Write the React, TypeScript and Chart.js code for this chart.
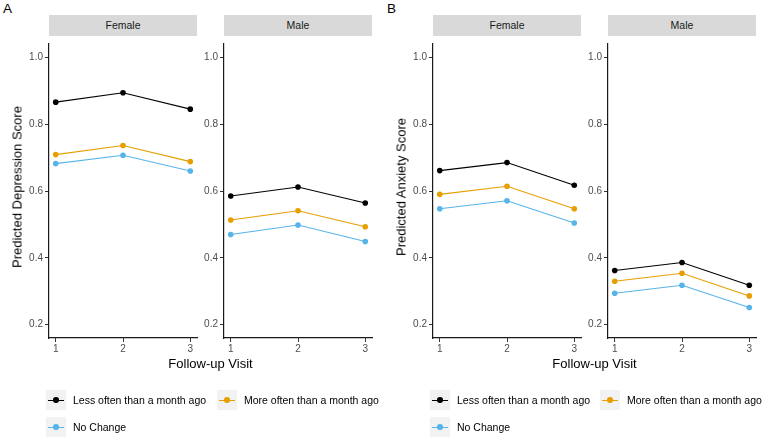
import React, { useEffect, useRef } from "react";
import { Chart, registerables } from "chart.js";

Chart.register(...registerables);

const visits = [1, 2, 3];
const yTickValues = [0.2, 0.4, 0.6, 0.8, 1.0];
const seriesNames = ["Less often than a month ago", "More often than a month ago", "No Change"];
const seriesColors = ["#000000", "#E69F00", "#56B4E9"];
const sexes = ["Female", "Male"];

// Depression (panel A)
const depFemaleLess = [0.866, 0.894, 0.845];
const depFemaleMore = [0.709, 0.736, 0.688];
const depFemaleNoChange = [0.682, 0.707, 0.660];
const depMaleLess = [0.585, 0.612, 0.564];
const depMaleMore = [0.513, 0.541, 0.493];
const depMaleNoChange = [0.470, 0.498, 0.449];

// Anxiety (panel B)
const anxFemaleLess = [0.661, 0.685, 0.617];
const anxFemaleMore = [0.590, 0.614, 0.547];
const anxFemaleNoChange = [0.547, 0.571, 0.504];
const anxMaleLess = [0.362, 0.386, 0.318];
const anxMaleMore = [0.330, 0.354, 0.286];
const anxMaleNoChange = [0.294, 0.318, 0.251];

const FONT = "'Liberation Sans', Arial, Helvetica, sans-serif";
const PLOT_W = 148;
const PLOT_TOP = 36;
const PLOT_H = 302;
const Y_AXIS_W = 30;
const X_AXIS_H = 20;
const RIGHT_PAD = 4;

type PanelProps = { left: number; series: number[][] };

function Panel({ left, series }: PanelProps) {
  const ref = useRef<HTMLCanvasElement | null>(null);
  useEffect(() => {
    if (!ref.current) return;
    const chart = new Chart(ref.current, {
      type: "line",
      data: {
        datasets: series.map((vals, i) => ({
          label: seriesNames[i],
          data: visits.map((x, j) => ({ x, y: vals[j] })),
          borderColor: seriesColors[i],
          backgroundColor: seriesColors[i],
          borderWidth: 1.1,
          pointRadius: 2.8,
          pointBorderWidth: 0,
          pointBackgroundColor: seriesColors[i],
          fill: false,
          tension: 0,
        })),
      },
      options: {
        animation: false,
        responsive: false,
        maintainAspectRatio: false,
        events: [],
        layout: { padding: { left: 0, right: RIGHT_PAD, top: 0, bottom: 0 } },
        plugins: { legend: { display: false }, tooltip: { enabled: false }, title: { display: false } },
        scales: {
          x: {
            type: "linear",
            min: 0.9,
            max: 3.1,
            afterBuildTicks: (s: any) => {
              s.ticks = visits.map((v) => ({ value: v }));
            },
            afterFit: (s: any) => {
              s.height = X_AXIS_H;
            },
            grid: { drawOnChartArea: false, drawTicks: true, tickLength: 4, color: "#333333", lineWidth: 1 },
            border: { display: true, color: "#1a1a1a", width: 1.2 },
            ticks: {
              color: "#4d4d4d",
              font: { size: 10, family: FONT },
              padding: 1,
              maxRotation: 0,
              autoSkip: false,
              callback: (v: any) => String(v),
            },
          },
          y: {
            type: "linear",
            min: 0.16,
            max: 1.04,
            afterBuildTicks: (s: any) => {
              s.ticks = yTickValues.map((v) => ({ value: v }));
            },
            afterFit: (s: any) => {
              s.width = Y_AXIS_W;
            },
            grid: { drawOnChartArea: false, drawTicks: true, tickLength: 4, color: "#333333", lineWidth: 1 },
            border: { display: true, color: "#1a1a1a", width: 1.2 },
            ticks: {
              color: "#4d4d4d",
              font: { size: 10, family: FONT },
              padding: 2,
              autoSkip: false,
              callback: (v: any) => Number(v).toFixed(1),
            },
          },
        },
      },
    });
    return () => chart.destroy();
  }, [left, series]);
  const w = Y_AXIS_W + PLOT_W + RIGHT_PAD;
  const h = PLOT_H + X_AXIS_H;
  return (
    <canvas
      ref={ref}
      width={w}
      height={h}
      style={{ position: "absolute", left: left - Y_AXIS_W, top: PLOT_TOP, width: w, height: h }}
    />
  );
}

function Strip({ left, text }: { left: number; text: string }) {
  return (
    <div
      style={{
        position: "absolute",
        left,
        top: 15,
        width: PLOT_W,
        height: 21,
        background: "#d9d9d9",
        color: "#1a1a1a",
        fontSize: 10.5,
        lineHeight: "21px",
        textAlign: "center",
      }}
    >
      {text}
    </div>
  );
}

function LegendItem({ left, top, textLeft, color, label }: { left: number; top: number; textLeft: number; color: string; label: string }) {
  return (
    <>
      <div style={{ position: "absolute", left, top, width: 20, height: 20, background: "#f2f2f2" }}>
        <div style={{ position: "absolute", left: 2, top: 9.5, width: 16, height: 1.1, background: color }} />
        <div style={{ position: "absolute", left: 7.2, top: 7.2, width: 5.6, height: 5.6, borderRadius: "50%", background: color }} />
      </div>
      <div
        style={{
          position: "absolute",
          left: textLeft,
          top,
          height: 20,
          lineHeight: "20px",
          fontSize: 10.5,
          color: "#000",
          whiteSpace: "nowrap",
        }}
      >
        {label}
      </div>
    </>
  );
}

function Half({ offset, tag, yTitle, female, male, plotLefts, legendX }: any) {
  const [fl, ml] = plotLefts;
  const center = (fl + ml + PLOT_W) / 2;
  return (
    <>
      <div style={{ position: "absolute", left: offset + 3, top: 1, fontSize: 13.5, color: "#000" }}>{tag}</div>
      <Strip left={fl} text={sexes[0]} />
      <Strip left={ml} text={sexes[1]} />
      <Panel left={fl} series={female} />
      <Panel left={ml} series={male} />
      <div
        style={{
          position: "absolute",
          left: fl - 32,
          top: PLOT_TOP + PLOT_H / 2,
          transform: "translate(-50%, -50%) rotate(-90deg)",
          fontSize: 13,
          whiteSpace: "nowrap",
          color: "#000",
        }}
      >
        {yTitle}
      </div>
      <div
        style={{
          position: "absolute",
          left: center,
          top: 363,
          transform: "translate(-50%, -50%)",
          fontSize: 13,
          whiteSpace: "nowrap",
          color: "#000",
        }}
      >
        Follow-up Visit
      </div>
      <LegendItem left={legendX[0]} top={390} textLeft={legendX[0] + 27} color={seriesColors[0]} label={seriesNames[0]} />
      <LegendItem left={legendX[1]} top={390} textLeft={legendX[1] + 27} color={seriesColors[1]} label={seriesNames[1]} />
      <LegendItem left={legendX[0]} top={417} textLeft={legendX[0] + 27} color={seriesColors[2]} label={seriesNames[2]} />
    </>
  );
}

const depFemale = [depFemaleLess, depFemaleMore, depFemaleNoChange];
const depMale = [depMaleLess, depMaleMore, depMaleNoChange];
const anxFemale = [anxFemaleLess, anxFemaleMore, anxFemaleNoChange];
const anxMale = [anxMaleLess, anxMaleMore, anxMaleNoChange];

export default function App() {
  return (
    <div
      style={{
        position: "absolute",
        left: 0,
        top: 0,
        width: 762,
        height: 441,
        background: "#ffffff",
        fontFamily: FONT,
        overflow: "hidden",
      }}
    >
      <Half
        offset={0}
        tag="A"
        yTitle="Predicted Depression Score"
        female={depFemale}
        male={depMale}
        plotLefts={[49, 224]}
        legendX={[46, 217]}
      />
      <Half
        offset={384}
        tag="B"
        yTitle="Predicted Anxiety Score"
        female={anxFemale}
        male={anxMale}
        plotLefts={[433, 608]}
        legendX={[430, 600]}
      />
    </div>
  );
}
